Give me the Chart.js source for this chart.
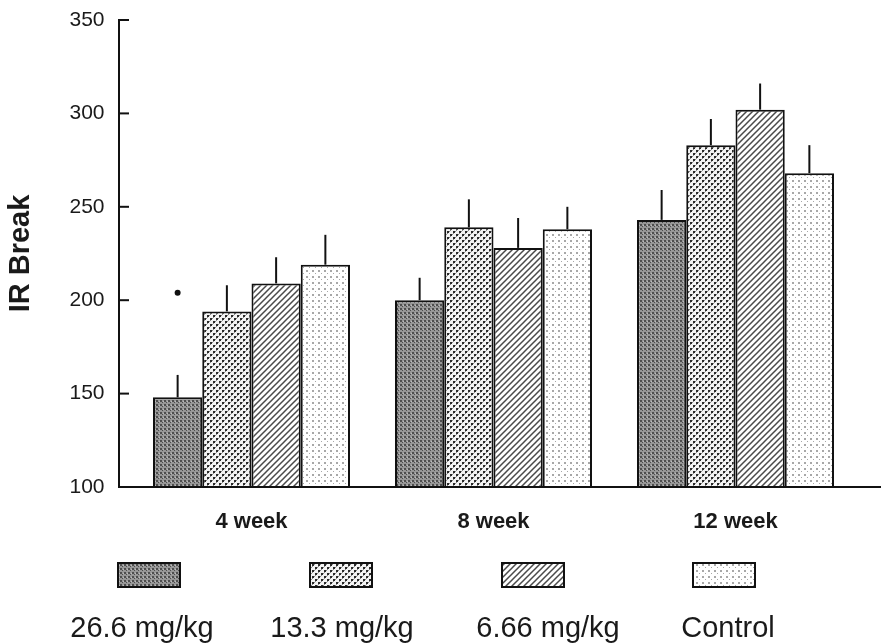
<!DOCTYPE html>
<html>
<head>
<meta charset="utf-8">
<style>
  html, body { margin: 0; padding: 0; background: #fff; }
  #wrap { width: 881px; height: 644px; }
</style>
<script src="https://cdn.jsdelivr.net/npm/chart.js@4.4.1/dist/chart.umd.min.js"></script>
</head>
<body>
<div id="wrap"><canvas id="irChart" width="881" height="644"></canvas></div>
<script>
// dados
const categories = ['4 week', '8 week', '12 week'];
const doseLabels = ['26.6 mg/kg', '13.3 mg/kg', '6.66 mg/kg', 'Control'];
const dose266 = [148, 200, 243];
const dose133 = [194, 239, 283];
const dose666 = [209, 228, 302];
const control = [219, 238, 268];
// barras de erro (so a parte de cima)
const err266 = [12, 12, 16];
const err133 = [14, 15, 14];
const err666 = [14, 16, 14];
const errControl = [16, 12, 15];
const yTicks = [100, 150, 200, 250, 300, 350];
// ponto de significancia acima da barra 26.6 mg/kg em 4 week
const sigDot = { dataset: 0, index: 0, value: 204 };

// padroes de preenchimento
function makePattern(size, draw) {
    const c = document.createElement('canvas');
    c.width = size; c.height = size;
    const g = c.getContext('2d');
    draw(g, size);
    return g.createPattern(c, 'repeat');
}

const ctx = document.getElementById('irChart').getContext('2d');

const patDark = makePattern(4, function(g) {
    g.fillStyle = '#979797'; g.fillRect(0, 0, 4, 4);
    g.fillStyle = '#4e4e4e'; g.fillRect(0, 0, 2, 2); g.fillRect(2, 2, 1, 1);
    g.fillStyle = '#bdbdbd'; g.fillRect(3, 1, 1, 1);
});
const patCross = makePattern(6, function(g) {
    g.fillStyle = '#f4f4f4'; g.fillRect(0, 0, 6, 6);
    g.fillStyle = '#2a2a2a'; g.fillRect(0, 0, 2, 2); g.fillRect(3, 3, 2, 2);
    g.fillStyle = '#888888'; g.fillRect(2, 0, 1, 1); g.fillRect(0, 2, 1, 1); g.fillRect(5, 3, 1, 1); g.fillRect(3, 5, 1, 1);
});
const patHatch = makePattern(6, function(g, s) {
    g.fillStyle = '#ffffff'; g.fillRect(0, 0, s, s);
    g.strokeStyle = '#4a4a4a'; g.lineWidth = 1.5;
    g.beginPath();
    g.moveTo(-1, s + 1); g.lineTo(s + 1, -1);
    g.moveTo(-1, 1); g.lineTo(1, -1);
    g.moveTo(s - 1, s + 1); g.lineTo(s + 1, s - 1);
    g.stroke();
});
const patLight = makePattern(6, function(g) {
    g.fillStyle = '#ffffff'; g.fillRect(0, 0, 6, 6);
    g.fillStyle = '#a8a8a8'; g.fillRect(0, 0, 2, 2); g.fillRect(3, 3, 1, 1);
});
const patterns = [patDark, patCross, patHatch, patLight];
const errors = [err266, err133, err666, errControl];

// eixos, barras de erro e legenda desenhados a mao
const extrasPlugin = {
    id: 'extras',
    afterDatasetsDraw(chart) {
        const c = chart.ctx;
        const y = chart.scales.y;
        const area = chart.chartArea;
        c.save();
        c.strokeStyle = '#111';
        c.lineWidth = 2;

        // barras de erro
        errors.forEach(function(errs, di) {
            const meta = chart.getDatasetMeta(di);
            meta.data.forEach(function(bar, i) {
                const v = chart.data.datasets[di].data[i];
                const top = y.getPixelForValue(v + errs[i]);
                c.beginPath();
                c.moveTo(bar.x, bar.y);
                c.lineTo(bar.x, top);
                c.stroke();
            });
        });

        // ponto
        const sb = chart.getDatasetMeta(sigDot.dataset).data[sigDot.index];
        c.fillStyle = '#111';
        c.beginPath();
        c.arc(sb.x, y.getPixelForValue(sigDot.value), 3, 0, Math.PI * 2);
        c.fill();

        // eixo y e eixo x
        const axisX = 119;
        c.beginPath();
        c.moveTo(axisX, area.top - 1);
        c.lineTo(axisX, area.bottom + 1);
        c.moveTo(axisX, area.bottom);
        c.lineTo(chart.width, area.bottom);
        c.stroke();
        yTicks.forEach(function(t) {
            const py = y.getPixelForValue(t);
            c.beginPath();
            c.moveTo(axisX, py);
            c.lineTo(axisX + 10, py);
            c.stroke();
        });

        // legenda
        const boxX = [149, 341, 533, 724];
        const textX = [142, 342, 548, 728];
        c.font = '29px "Liberation Sans", Arial, sans-serif';
        c.textAlign = 'center';
        c.textBaseline = 'alphabetic';
        doseLabels.forEach(function(lbl, i) {
            c.fillStyle = patterns[i];
            c.fillRect(boxX[i] - 31, 563, 62, 24);
            c.strokeStyle = '#111';
            c.lineWidth = 2;
            c.strokeRect(boxX[i] - 31, 563, 62, 24);
            c.fillStyle = '#1a1a1a';
            c.fillText(lbl, textX[i], 637);
        });
        c.restore();
    }
};

const series = [dose266, dose133, dose666, control];
const irChart = new Chart(ctx, {
    type: 'bar',
    data: {
        labels: categories,
        datasets: series.map(function(vals, i) {
            return {
                label: doseLabels[i],
                data: vals,
                base: yTicks[0],
                backgroundColor: patterns[i],
                borderColor: '#111',
                borderWidth: 2,
                borderSkipped: 'start',
                barPercentage: 1,
                categoryPercentage: 0.814
            };
        })
    },
    options: {
        responsive: false,
        animation: false,
        layout: { padding: { top: 20, right: 24.5, left: 0, bottom: 0 } },
        plugins: {
            legend: { display: false },
            tooltip: { enabled: false }
        },
        scales: {
            x: {
                grid: { display: false, drawTicks: false },
                border: { display: false },
                ticks: {
                    color: '#1a1a1a',
                    padding: 22,
                    font: { family: '"Liberation Sans", Arial, sans-serif', size: 22, weight: 'bold' }
                },
                afterFit: function(scale) {
                    scale.height = 157;
                    scale.paddingTop = 0; scale.paddingBottom = 0;
                    scale.paddingLeft = 0; scale.paddingRight = 0;
                }
            },
            y: {
                min: yTicks[0],
                max: yTicks[yTicks.length - 1],
                grid: { display: false, drawTicks: false },
                border: { display: false },
                ticks: {
                    stepSize: yTicks[1] - yTicks[0],
                    color: '#1a1a1a',
                    padding: 26,
                    font: { family: '"Liberation Sans", Arial, sans-serif', size: 21 }
                },
                title: {
                    display: true,
                    text: 'IR Break',
                    color: '#1a1a1a',
                    padding: { top: 4, bottom: 0 },
                    font: { family: '"Liberation Sans", Arial, sans-serif', size: 29, weight: 'bold' }
                },
                afterFit: function(scale) {
                    scale.width = 130.5;
                    scale.paddingTop = 0; scale.paddingBottom = 0;
                }
            }
        }
    },
    plugins: [extrasPlugin]
});
</script>
</body>
</html>
